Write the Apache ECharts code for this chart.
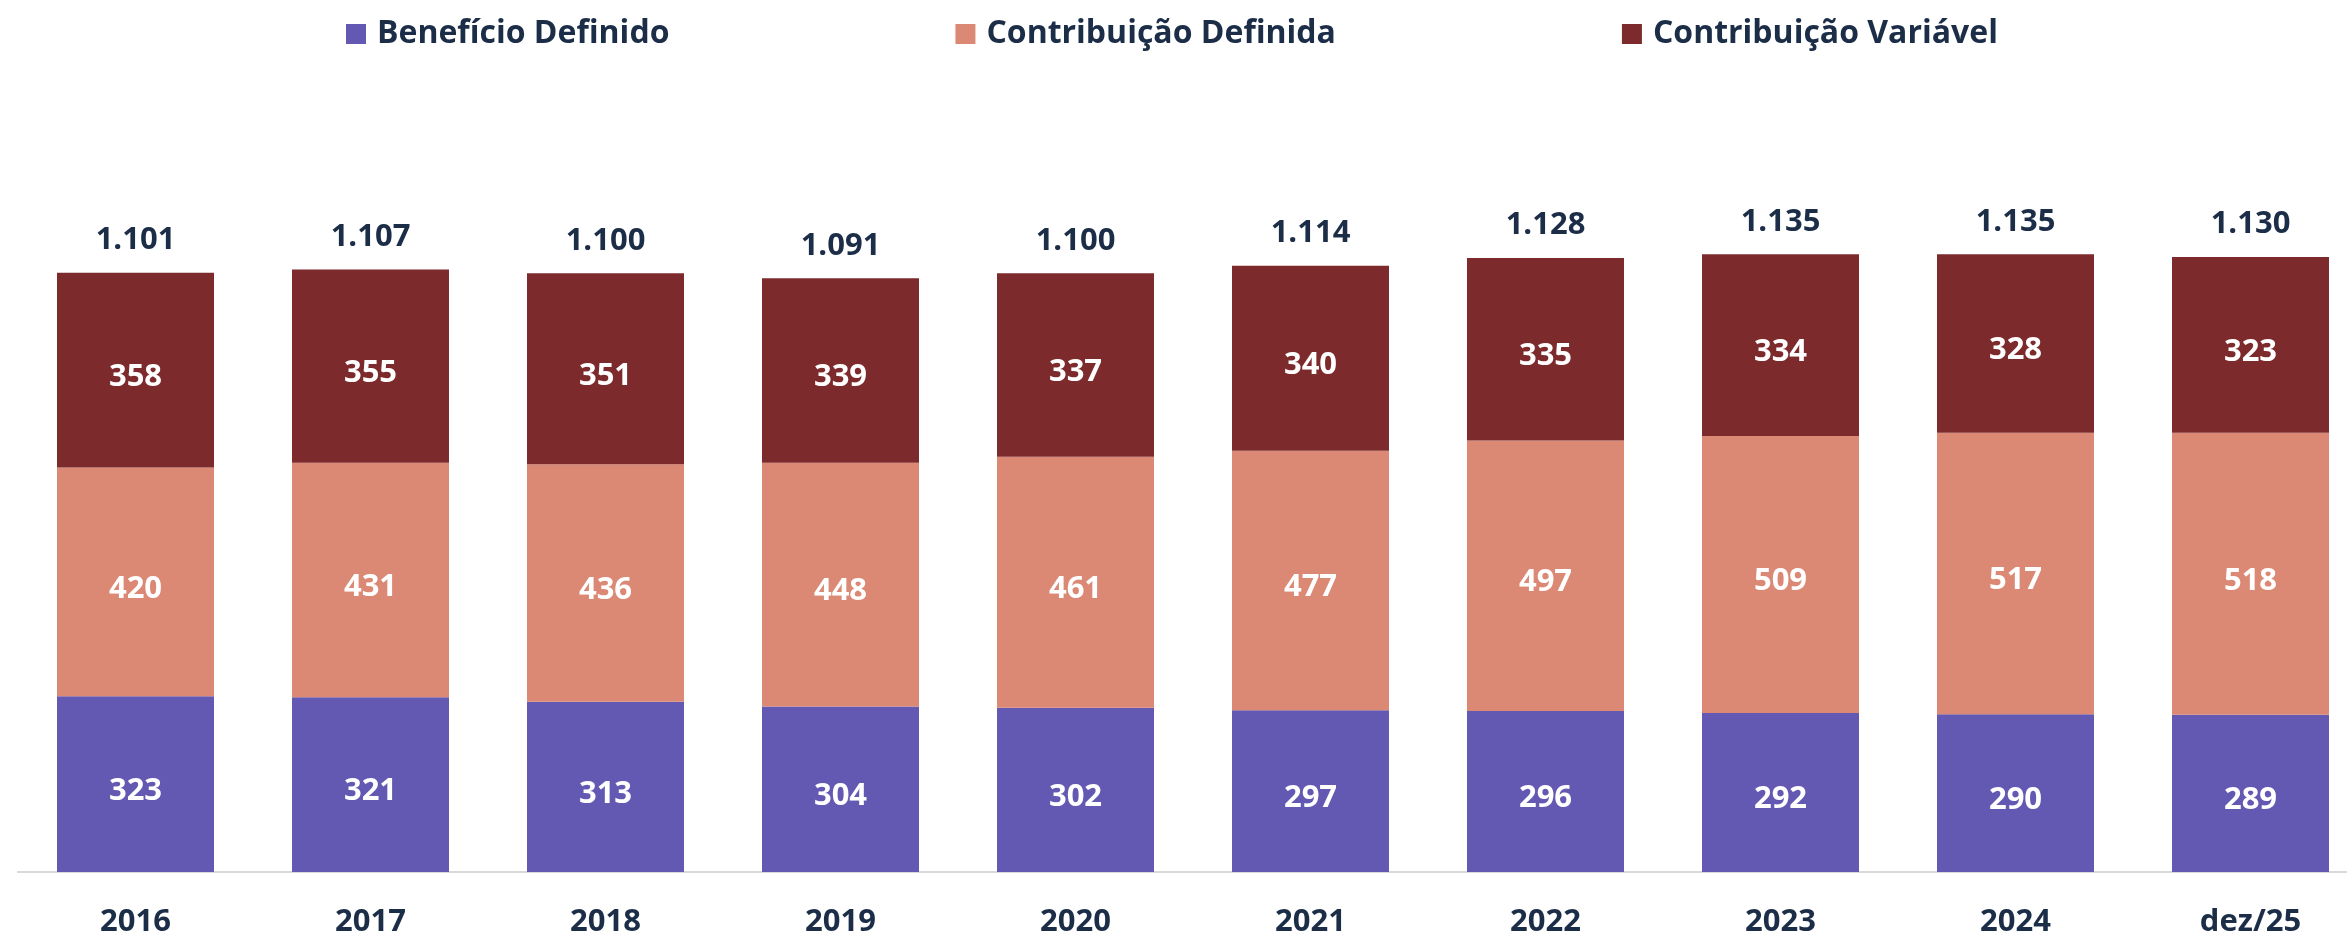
<!DOCTYPE html>
<html>
<head>
<meta charset="utf-8">
<script src="https://cdn.jsdelivr.net/npm/echarts@6/dist/echarts.min.js"></script>
<style>
html,body{margin:0;padding:0;background:#fff;overflow:hidden;width:2347px;height:938px;}
#chart{width:2368px;height:938px;}
</style>
</head>
<body>
<div id="chart"></div>
<script>
const categories = ['2016','2017','2018','2019','2020','2021','2022','2023','2024','dez/25'];
const beneficioDefinido = [323,321,313,304,302,297,296,292,290,289];
const contribuicaoDefinida = [420,431,436,448,461,477,497,509,517,518];
const contribuicaoVariavel = [358,355,351,339,337,340,335,334,328,323];
const totals = [1101,1107,1100,1091,1100,1114,1128,1135,1135,1130];
const seriesNames = ['Benefício Definido','Contribuição Definida','Contribuição Variável'];
const colors = ['#6359B2','#DB8974','#7D2A2D'];

const FONT = '"Open Sans", "Noto Sans", sans-serif';
const TEXT = '#1B2D47';

function fmt(n){
  return String(n).replace(/\B(?=(\d{3})+(?!\d))/g, '.');
}

const innerLabel = {
  show: true, position: 'inside', color: '#fff', offset: [0, 7],
  fontFamily: FONT, fontWeight: 'bold', fontSize: 31
};

const chart = echarts.init(document.getElementById('chart'));
chart.setOption({
  animation: false,
  textStyle: {fontFamily: FONT},
  legend: {
    data: seriesNames,
    top: 13,
    left: 341,
    itemWidth: 20,
    itemHeight: 20,
    itemGap: 286,
    icon: 'rect',
    textStyle: {fontFamily: FONT, fontWeight: 'bold', fontSize: 32, color: TEXT, padding: [0,0,0,6]}
  },
  grid: {left: 18, right: 0, top: 110, bottom: 64, containLabel: false},
  xAxis: {
    type: 'category',
    data: categories,
    axisLine: {show: true, lineStyle: {color: '#D9D9D9', width: 2}},
    axisTick: {show: false},
    axisLabel: {fontFamily: FONT, fontWeight: 'bold', fontSize: 31, color: TEXT, margin: 35}
  },
  yAxis: {
    type: 'value', min: 0, max: 1400,
    show: false,
    splitLine: {show: false}
  },
  series: [
    {name: seriesNames[0], type: 'bar', stack: 'total', data: beneficioDefinido,
     barWidth: 157, itemStyle: {color: colors[0]}, label: innerLabel},
    {name: seriesNames[1], type: 'bar', stack: 'total', data: contribuicaoDefinida,
     barWidth: 157, itemStyle: {color: colors[1]}, label: innerLabel},
    {name: seriesNames[2], type: 'bar', stack: 'total', data: contribuicaoVariavel,
     barWidth: 157, itemStyle: {color: colors[2]}, label: innerLabel},
    {name: 'Total', type: 'bar', stack: 'total', data: totals.map(() => 0),
     barWidth: 157, itemStyle: {color: 'transparent'},
     label: {show: true, position: 'top', distance: 17, color: TEXT,
       fontFamily: FONT, fontWeight: 'bold', fontSize: 31,
       formatter: p => fmt(totals[p.dataIndex])}}
  ]
});
</script>
</body>
</html>
